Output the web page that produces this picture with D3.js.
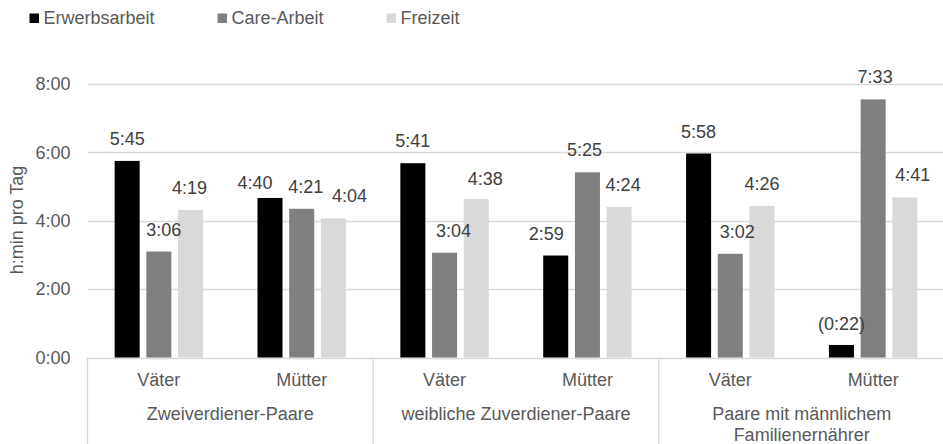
<!DOCTYPE html>
<html>
<head>
<meta charset="utf-8">
<script src="https://cdn.jsdelivr.net/npm/d3@7"></script>
<style>
  body { margin: 0; background: #fff; }
  svg { display: block; font-family: "Liberation Sans", Arial, sans-serif; }
</style>
</head>
<body>
<svg id="chart" width="943" height="444"></svg>
<script>
// data
const groups = ["Zweiverdiener-Paare", "weibliche Zuverdiener-Paare", "Paare mit männlichem Familienernährer"];
const groupLines = [["Zweiverdiener-Paare"], ["weibliche Zuverdiener-Paare"], ["Paare mit männlichem", "Familienernährer"]];
const roles = ["Väter", "Mütter"];
const series = ["Erwerbsarbeit", "Care-Arbeit", "Freizeit"];
// h:min per group, role (Väter, Mütter), series
const erwerbsarbeit = ["5:45", "4:40", "5:41", "2:59", "5:58", "0:22"];
const careArbeit    = ["3:06", "4:21", "3:04", "5:25", "3:02", "7:33"];
const freizeit      = ["4:19", "4:04", "4:38", "4:24", "4:26", "4:41"];
const yTicks = [0, 2, 4, 6, 8];
const bracketed = ["2-1-0"]; // value shown in brackets

const colors = ["#000000", "#7f7f7f", "#d9d9d9"];
// hand-moved data labels, [dx, dy] in px
const labelNudge = {
  "0-0-1": [5, 0], "0-0-2": [-1, 0],
  "0-1-0": [-15, 7], "0-1-1": [4, 0], "0-1-2": [16, 0],
  "1-0-1": [9, 0], "1-0-2": [9, 2],
  "1-1-0": [-9.5, 0], "1-1-1": [-3, 0], "1-1-2": [4, 0],
  "2-0-1": [7, 0],
  "2-1-0": [0, 1], "2-1-1": [2, 0], "2-1-2": [8, 0]
};

const toHours = s => { const [h, m] = s.split(":").map(Number); return h + m / 60; };
const fmtTick = h => h + ":00";

const seriesVals = [erwerbsarbeit, careArbeit, freizeit];
const cells = [];
groups.forEach((g, gi) => roles.forEach((r, ri) => {
  series.forEach((s, si) => {
    const raw = seriesVals[si][gi * 2 + ri];
    cells.push({ gi, ri, si, key: gi + "-" + ri + "-" + si, label: raw, value: toHours(raw) });
  });
}));

const svg = d3.select("#chart");
const left = 87.5, right = 944.5, y0 = 357.5, yTop = 84;
const textColor = "#595959";

const subKeys = [];
groups.forEach((g, gi) => roles.forEach((r, ri) => subKeys.push(gi + "-" + ri)));

const x0 = d3.scaleBand().domain(subKeys).range([left, right]).paddingInner(0.381).paddingOuter(0.19);
const x1 = d3.scaleBand().domain(d3.range(series.length)).range([0, x0.bandwidth()]).paddingInner(0.211);
const y = d3.scaleLinear().domain([0, 8]).range([y0, yTop]);

// gridlines
svg.append("g").selectAll("line").data(yTicks).join("line")
  .attr("x1", left).attr("x2", right)
  .attr("y1", d => Math.round(y(d)) + 0.5).attr("y2", d => Math.round(y(d)) + 0.5)
  .attr("stroke", "#d9d9d9").attr("stroke-width", 1.3);

// y axis labels
const yAxis = svg.append("g").attr("transform", `translate(${left},0)`)
  .call(d3.axisLeft(y).tickValues(yTicks).tickFormat(fmtTick).tickSize(0).tickPadding(17));
yAxis.select(".domain").remove();
yAxis.selectAll("text").attr("font-size", 18).attr("fill", textColor)
  .attr("font-family", "Liberation Sans, Arial, sans-serif");

svg.append("text")
  .attr("transform", `translate(23,220) rotate(-90)`)
  .attr("text-anchor", "middle")
  .attr("font-size", 18).attr("fill", textColor)
  .text("h:min pro Tag");

// bars
svg.append("g").selectAll("rect").data(cells).join("rect")
  .attr("x", d => x0(d.gi + "-" + d.ri) + x1(d.si))
  .attr("y", d => y(d.value))
  .attr("width", x1.bandwidth())
  .attr("height", d => y0 - y(d.value))
  .attr("fill", d => colors[d.si]);

// data labels
svg.append("g").selectAll("text").data(cells).join("text")
  .attr("x", d => x0(d.gi + "-" + d.ri) + x1(d.si) + x1.bandwidth() / 2 + (labelNudge[d.key] || [0, 0])[0])
  .attr("y", d => y(d.value) - 16 + (labelNudge[d.key] || [0, 0])[1])
  .attr("text-anchor", "middle")
  .attr("font-size", 18).attr("fill", "#404040")
  .text(d => bracketed.includes(d.key) ? "(" + d.label + ")" : d.label);

// category axis
const groupW = (right - left) / groups.length;
svg.append("g").selectAll("line").data(d3.range(groups.length + 1)).join("line")
  .attr("x1", i => left + i * groupW).attr("x2", i => left + i * groupW)
  .attr("y1", y0).attr("y2", 444)
  .attr("stroke", "#d9d9d9").attr("stroke-width", 1.3);

svg.append("g").selectAll("text").data(subKeys).join("text")
  .attr("x", k => x0(k) + x0.bandwidth() / 2)
  .attr("y", 386)
  .attr("text-anchor", "middle")
  .attr("font-size", 18).attr("fill", textColor)
  .text(k => roles[+k.split("-")[1]]);

const gl = svg.append("g").selectAll("text").data(groupLines).join("text")
  .attr("x", (d, i) => left + (i + 0.5) * groupW)
  .attr("y", 420)
  .attr("text-anchor", "middle")
  .attr("font-size", 18).attr("fill", textColor);
gl.selectAll("tspan").data(d => d).join("tspan")
  .attr("x", function () { return d3.select(this.parentNode).attr("x"); })
  .attr("dy", (d, i) => i === 0 ? 0 : 21)
  .text(d => d);

// legend
const legend = svg.append("g");
let lx = 29.5;
series.forEach((s, i) => {
  legend.append("rect").attr("x", lx).attr("y", 13.5).attr("width", 9.5).attr("height", 9.5)
    .attr("fill", colors[i]);
  const t = legend.append("text").attr("x", lx + 14).attr("y", 24)
    .attr("font-size", 18).attr("fill", textColor).text(s);
  lx += 14 + t.node().getComputedTextLength() + 63;
});
</script>
</body>
</html>
